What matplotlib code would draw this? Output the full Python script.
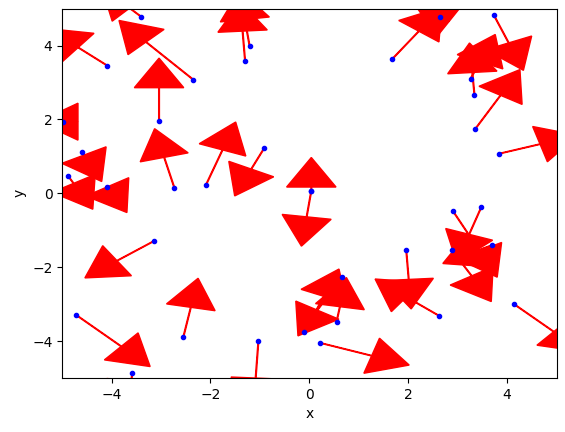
import matplotlib
matplotlib.use("Agg")
import matplotlib.pyplot as plt

xs = [-3.40,-4.09,-2.35,-1.21,-1.30,-4.98,-3.04,-4.60,-4.88,-4.09,-2.73,-0.91,-2.09,0.04,0.04,-3.14,-4.72,-2.55,-1.03,-3.58,-0.10,0.67,0.55,0.22,1.96,2.63,2.90,2.88,3.48,3.70,4.13,3.83,3.36,3.34,3.26,1.68,2.65,3.73]
ys = [4.78,3.46,3.08,4.00,3.59,1.94,1.96,1.12,0.47,0.18,0.15,1.23,0.23,0.07,0.07,-1.29,-3.29,-3.90,-4.00,-4.86,-3.75,-2.26,-3.48,-4.05,-1.53,-3.32,-0.47,-1.53,-0.37,-1.40,-2.99,1.07,1.75,2.67,3.10,3.64,4.78,4.83]
dxs = [-0.8,-1.2,-1.5,-0.2,-0.1,-0.5,0.0,0.4,0.5,0.4,-0.4,-0.6,0.6,0.0,-0.2,-1.4,1.5,0.3,-0.1,-0.1,0.7,-0.9,0.2,1.8,0.1,-1.3,0.9,0.8,-0.5,-1.0,1.4,1.6,0.9,-0.1,0.5,1.0,-0.5,0.6]
dys = [0.8,1.0,1.6,1.5,1.6,0.0,1.7,-0.8,-0.9,-0.7,1.6,-1.3,1.7,0.9,-1.5,-1.0,-1.4,1.6,-1.8,-1.0,1.7,-1.6,1.2,-0.6,-1.6,1.0,-1.8,-1.4,-1.5,-0.5,-1.3,0.5,1.6,1.4,1.2,1.4,0.3,-1.5]

fig, ax = plt.subplots(figsize=(5.65,4.32), dpi=100)
ax.plot(xs, ys, '.', color='blue')
for x, y, dx, dy in zip(xs, ys, dxs, dys):
    ax.arrow(x, y, dx, dy, head_width=1.0, head_length=0.8, length_includes_head=True,
             width=0.015, color='red')
ax.set_xlim(-5,5); ax.set_ylim(-5,5)
ax.set_xlabel('x'); ax.set_ylabel('y')
fig.subplots_adjust(left=0.11, right=0.985, top=0.98, bottom=0.125)
fig.savefig('out.png')
